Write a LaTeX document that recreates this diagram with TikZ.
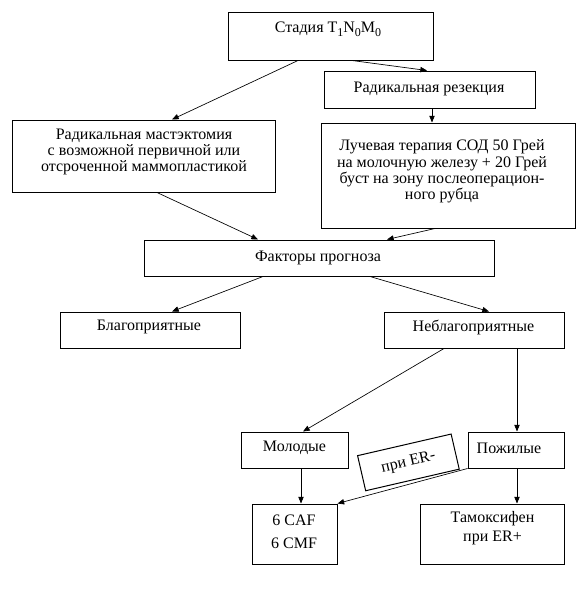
\documentclass[tikz,border=0pt]{standalone}
\usepackage{fontspec}
\setmainfont{Liberation Serif}
\usetikzlibrary{arrows.meta,calc}
\newcommand\lowsub[1]{\raisebox{-0.5ex}{\fontsize{9}{9}\selectfont #1}}
\begin{document}
\begin{tikzpicture}[x=0.75pt,y=-0.75pt,
  sz/.style n args={2}{minimum width=#1*0.75pt, minimum height=#2*0.75pt},
  box/.style={draw, line width=0.75pt, inner sep=0pt},
  txt/.style={inner sep=0pt, align=center, font=\fontsize{12}{12.2}\selectfont},
  conn/.style={line width=0.5pt, -{Triangle[length=5pt,width=4pt]}}]
\useasboundingbox (0,0) rectangle (577,589);
% boxes
\node[box, sz={205}{48}] (stage) at (330.5,36) {};
\node[box, sz={211}{37}] (resect) at (429.5,89.5) {};
\node[box, sz={263}{72}] (mast) at (144.3,156) {};
\node[box, sz={254}{105}] (rad) at (448,175.5) {};
\node[box, sz={350}{36}] (fact) at (319,258) {};
\node[box, sz={180}{36}] (fav) at (150,330) {};
\node[box, sz={180}{36}] (unfav) at (474,330) {};
\node[box, sz={107}{36}] (young) at (294.5,450) {};
\node[box, sz={96}{36}] (old) at (516,450) {};
\node[box, sz={85}{60}] (caf) at (294.5,534) {};
\node[box, sz={144}{60}] (tam) at (492,534) {};
\node[box, txt, sz={96}{36}, rotate=13] (er) at (408.4,462.4) {при ER-};
% texts
\node[txt] (stage-t) at (328,29) {Стадия T\lowsub{1}N\lowsub{0}M\lowsub{0}};
\node[txt] (resect-t) at (429,89) {Радикальная резекция};
\node[txt] (mast-t) at (144,152) {Радикальная мастэктомия\\с возможной первичной или\\отсроченной маммопластикой};
\node[txt] (rad-t) at (442,171.5) {Лучевая терапия СОД 50 Грей\\на молочную железу + 20 Грей\\буст на зону послеоперацион-\\ного рубца};
\node[txt] (fact-t) at (318,258) {Факторы прогноза};
\node[txt] (fav-t) at (149,327) {Благоприятные};
\node[txt] (unfav-t) at (473.5,327) {Неблагоприятные};
\node[txt] (young-t) at (294.5,448) {Молодые};
\node[txt] (old-t) at (509,448) {Пожилые};
\node[txt, font=\fontsize{12}{17}\selectfont] (caf-t) at (294,531.5) {6 CAF\\6 CMF};
\node[txt, font=\fontsize{12}{14.3}\selectfont] (tam-t) at (492.5,528.5) {Тамоксифен\\при ER+};
% connectors
\draw[conn] ($(stage.south)+(-32.5,0)$) -- ($(mast.north)+(27.7,0)$);
\draw[conn] ($(stage.south)+(21.5,0)$) -- ($(resect.north)+(-2.5,0)$);
\draw[conn] ($(resect.south)+(2.5,0)$) -- ($(rad.north)+(-16,0)$);
\draw[conn] ($(mast.south)+(12.7,0)$) -- ($(fact.north)+(-61,0)$);
\draw[conn] ($(rad.south)+(-13,0)$) -- ($(fact.north)+(68,0)$);
\draw[conn] ($(fact.south)+(-56,0)$) -- ($(fav.north)+(22,0)$);
\draw[conn] ($(fact.south)+(51,0)$) -- ($(unfav.north)+(15,0)$);
\draw[conn] ($(unfav.south)+(-30,0)$) -- ($(young.north)+(8.5,0)$);
\draw[conn] ($(unfav.south)+(43,0)$) -- ($(old.north)+(1,0)$);
\draw[conn] ($(young.south)+(6.5,0)$) -- ($(caf.north)+(6.5,0)$);
\draw[conn] ($(old.south)+(1,0)$) -- ($(tam.north)+(25,0)$);
\draw[conn] (old.south west) -- (caf.north east);
\end{tikzpicture}
\end{document}
